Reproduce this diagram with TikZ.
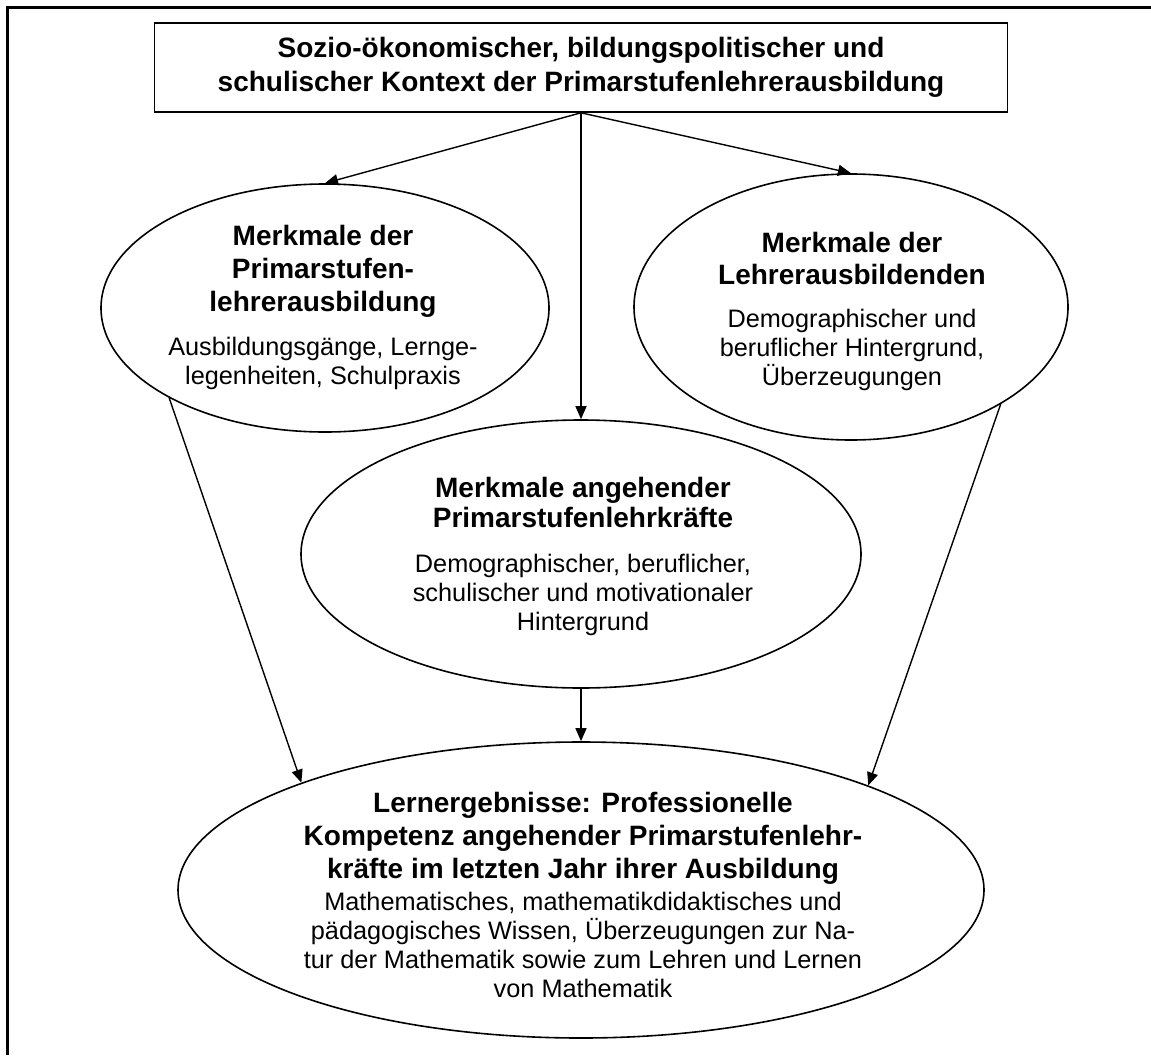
\documentclass[tikz,border=0pt]{standalone}
\usepackage{fontspec}
\setmainfont{Liberation Sans}
\usetikzlibrary{shapes.geometric,arrows.meta}
\newcommand\boldline[1]{{\fontsize{28}{33}\selectfont\bfseries #1}}
\begin{document}
\begin{tikzpicture}[x=1pt,y=-1pt,
  ell/.style={draw, ellipse, line width=1.6pt, inner sep=0pt},
  txt/.style={align=center, font=\fontsize{25.3}{29}\selectfont, inner sep=0pt},
  arr/.style={line width=1.4pt, -{Triangle[length=13pt,width=11pt]}},
]
\useasboundingbox (0,0) rectangle (1151,1055);
\fill[white] (0,0) rectangle (1151,1055);
\draw[line width=3pt] (7.5,1055) -- (7.5,7.5) -- (1151,7.5);

\node[draw, line width=1.6pt, minimum width=853pt, minimum height=89pt, inner sep=0pt,
      align=center, font=\fontsize{28}{34}\selectfont\bfseries] (T) at (581,67.5)
  {Sozio-ökonomischer, bildungspolitischer und\\schulischer Kontext der Primarstufenlehrerausbildung};

\node[ell, minimum width=448pt, minimum height=248pt] (L) at (325,308) {};
\node[ell, minimum width=434pt, minimum height=266pt] (R) at (851,307) {};
\node[ell, minimum width=560pt, minimum height=268pt] (M) at (581,554) {};
\node[ell, minimum width=806pt, minimum height=296pt] (B) at (581,890) {};

\node[txt] (Lt) at (323,307)
  {\boldline{Merkmale der}\\[4pt]\boldline{Primarstufen-}\\[4pt]\boldline{lehrerausbildung}\\[15pt]Ausbildungsgänge, Lernge-\\legenheiten, Schulpraxis};
\node[txt] (Rt) at (852,311)
  {\boldline{Merkmale der}\\[3pt]\boldline{Lehrerausbildenden}\\[14pt]Demographischer und\\beruflicher Hintergrund,\\Überzeugungen};
\node[txt] (Mt) at (583,556)
  {\boldline{Merkmale angehender}\\[1pt]\boldline{Primarstufenlehrkräfte}\\[16pt]Demographischer, beruflicher,\\schulischer und motivationaler\\Hintergrund};
\node[txt] (Bt) at (583,895)
  {\boldline{Lernergebnisse: Professionelle}\\[4pt]\boldline{Kompetenz angehender Primarstufenlehr-}\\[4pt]\boldline{kräfte im letzten Jahr ihrer Ausbildung}\\[3pt]Mathematisches, mathematikdidaktisches und\\pädagogisches Wissen, Überzeugungen zur Na-\\tur der Mathematik sowie zum Lehren und Lernen\\von Mathematik};

\draw[arr] (T.south) -- (L.north);
\draw[arr] (T.south) -- (R.north);
\draw[arr] (T.south) -- (M.north);
\draw[arr] (M.south) -- (B.north);
\draw[arr] (L.-150) -- (B.159.5);
\draw[arr] (R.-33) -- (B.20.5);
\end{tikzpicture}
\end{document}
